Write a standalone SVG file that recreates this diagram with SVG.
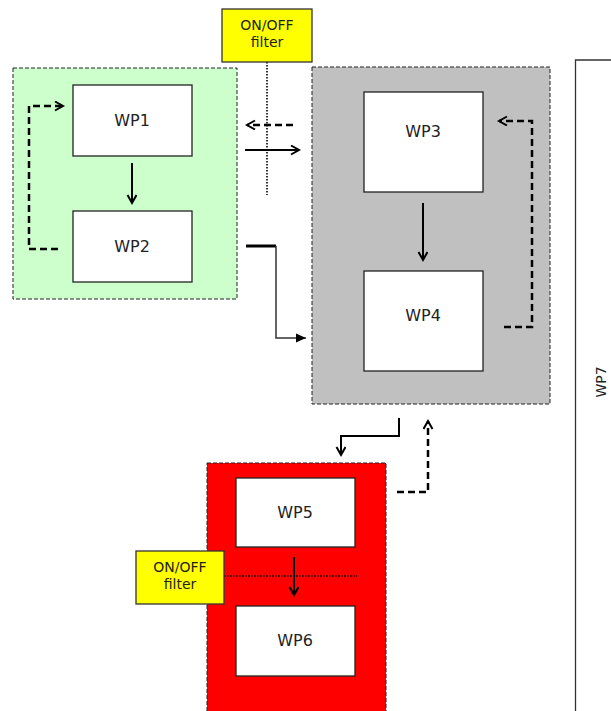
<svg xmlns="http://www.w3.org/2000/svg" width="611" height="711" viewBox="0 0 611 711">
<style>
.cont{stroke:#222;stroke-width:1;stroke-dasharray:4,2}
.box{fill:#fff;stroke:#222;stroke-width:1.3}
.lbl{font-family:"DejaVu Sans",Verdana,sans-serif;font-size:16px;fill:#222;text-anchor:middle;dominant-baseline:central}
.flt{fill:#ffff00;stroke:#333;stroke-width:1.3}
.ft{font-family:"DejaVu Sans",Verdana,sans-serif;font-size:14px;fill:#222;text-anchor:middle}
.sol{fill:none;stroke:#000;stroke-width:2}
.dsh{fill:none;stroke:#000;stroke-width:2.5;stroke-dasharray:7,4}
.dot{fill:none;stroke:#000;stroke-width:1.6;stroke-dasharray:1.5,1.5}
</style>
<defs>
<marker id="v" markerUnits="userSpaceOnUse" markerWidth="12" markerHeight="12" refX="9" refY="5" orient="auto">
<path d="M1,0.5 L9,5 L1,9.5" fill="none" stroke="#000" stroke-width="2"/>
</marker>
<marker id="tri" markerUnits="userSpaceOnUse" markerWidth="12" markerHeight="12" refX="10" refY="5" orient="auto">
<path d="M0,0.5 L10,5 L0,9.5 Z" fill="#000"/>
</marker>
</defs>
<g id="wp7"><path d="M612,60 H575.5 V712" fill="#fff" stroke="#333" stroke-width="1.3"/>
<text transform="translate(601,382) rotate(-90)" class="lbl" style="font-size:14px">WP7</text></g>
<g id="green"><rect x="13" y="68" width="224" height="231" fill="#ccffcc" class="cont"/></g>
<g id="gray"><rect x="312" y="67" width="238" height="337" fill="#c0c0c0" class="cont"/></g>
<g id="red"><rect x="207" y="463" width="179" height="260" fill="#ff0000" class="cont"/></g>
<g id="wp1"><rect x="73" y="85" width="119" height="71" class="box"/><text x="132" y="120" class="lbl">WP1</text></g>
<g id="wp2"><rect x="73" y="211" width="119" height="71" class="box"/><text x="132" y="246" class="lbl">WP2</text></g>
<g id="wp3"><rect x="364" y="92" width="119" height="100" class="box"/><text x="423" y="131" class="lbl">WP3</text></g>
<g id="wp4"><rect x="364" y="271" width="119" height="100" class="box"/><text x="423" y="315" class="lbl">WP4</text></g>
<g id="wp5"><rect x="236" y="478" width="119" height="69" class="box"/><text x="295" y="512" class="lbl">WP5</text></g>
<g id="wp6"><rect x="236" y="606" width="119" height="70" class="box"/><text x="295" y="640" class="lbl">WP6</text></g>
<g id="connectors">
<line x1="267" y1="62" x2="267" y2="195" class="dot"/>
<line x1="224" y1="576" x2="357" y2="576" class="dot"/>
<line x1="132" y1="163" x2="132" y2="203" class="sol" marker-end="url(#v)"/>
<line x1="423" y1="203" x2="423" y2="260" class="sol" marker-end="url(#v)"/>
<line x1="294" y1="557" x2="294" y2="595" class="sol" marker-end="url(#v)"/>
<path d="M58,249 H29 V106 H63" class="dsh" marker-end="url(#v)"/>
<path d="M504,327 H532 V121 H499" class="dsh" marker-end="url(#v)"/>
<line x1="293" y1="125" x2="247" y2="125" class="dsh" marker-end="url(#v)"/>
<line x1="245" y1="150" x2="299" y2="150" class="sol" marker-end="url(#v)"/>
<path d="M246,246 H276" fill="none" stroke="#000" stroke-width="3"/>
<path d="M276,246 V338 H306" fill="none" stroke="#333" stroke-width="1.5" marker-end="url(#tri)"/>
<path d="M399,418 V436 H341 V455" class="sol" marker-end="url(#v)"/>
<path d="M397,492 H428 V421" class="dsh" marker-end="url(#v)"/>
</g>
<g id="filter1"><rect x="222" y="9" width="90" height="53" class="flt"/><text x="267" y="30" class="ft">ON/OFF</text><text x="267" y="47" class="ft">filter</text></g>
<g id="filter2"><rect x="136" y="551" width="88" height="53" class="flt"/><text x="180" y="572" class="ft">ON/OFF</text><text x="180" y="589" class="ft">filter</text></g>
</svg>
